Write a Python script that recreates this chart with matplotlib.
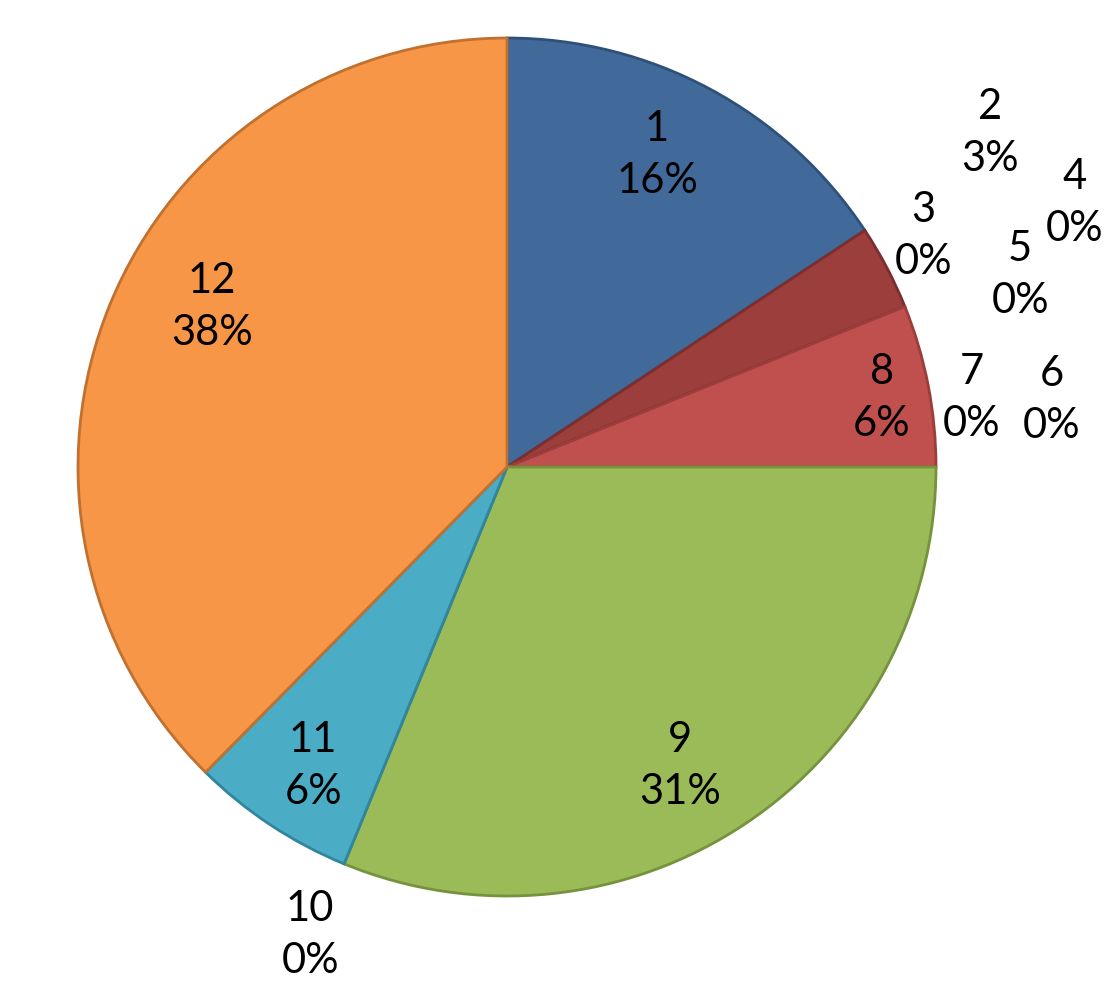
import matplotlib.pyplot as plt

names = ['1', '2', '3', '4', '5', '6', '7', '8', '9', '10', '11', '12']
values = [15.7, 3.2, 0, 0, 0, 0, 0, 6.1, 31.2, 0, 6.2, 37.6]
fills = ['#416a9b', '#9b3e3c', '#7f6b9a', '#4aa3bc', '#e78b3f', '#5a7fae',
         '#b25550', '#c0504d', '#9bbb59', '#4bacc6', '#4bacc6', '#f79646']
edges = ['#2f5078', '#7a2e2e', '#7a2e2e', '#7a2e2e', '#7a2e2e', '#7a2e2e',
         '#8f3c3a', '#9a3d3b', '#76923c', '#31859c', '#31859c', '#c0702f']
# label positions (in units of pie radius), Excel "best fit" style
label_pos = [(0.350, 0.727), (1.126, 0.779), (0.970, 0.538), (1.324, 0.615),
             (1.196, 0.448), (1.270, 0.157), (1.084, 0.160), (0.874, 0.160),
             (0.403, -0.697), (-0.459, -1.091), (-0.452, -0.697), (-0.688, 0.373)]

total = sum(values)

fig = plt.figure(figsize=(11.12, 10.02), dpi=100)
ax = fig.add_axes([78 / 1112, 106 / 1002, 858 / 1112, 858 / 1002])
wedges, _ = ax.pie(values, colors=fills, startangle=90, counterclock=False,
                   radius=1.0, wedgeprops=dict(linewidth=2))
for w, ec in zip(wedges, edges):
    w.set_edgecolor(ec)

for n, v, (x, y) in zip(names, values, label_pos):
    ax.text(x, y, f"{n}\n{v / total:.0%}", ha='center', va='center',
            fontsize=30, family=['Lato', 'DejaVu Sans'], linespacing=1.45,
            clip_on=False)

ax.set_xlim(-1, 1)
ax.set_ylim(-1, 1)
ax.set_aspect('equal')
ax.axis('off')
fig.savefig('out.png', dpi=100)
